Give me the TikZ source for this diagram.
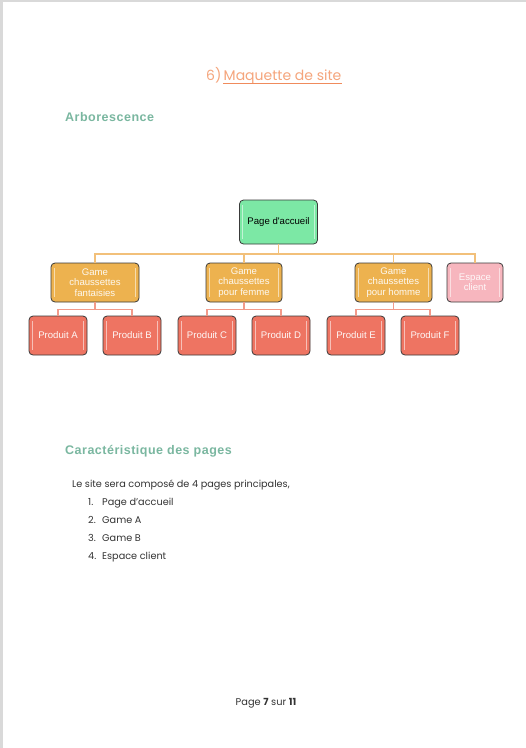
\documentclass[tikz,border=0pt]{standalone}
\usepackage{fontspec}
\setmainfont{Poppins}
\newfontfamily\arial{Liberation Sans}
\newfontfamily\arialsp[LetterSpace=4]{Liberation Sans}
\definecolor{pageedge}{HTML}{D9D9D9}
\definecolor{titleor}{HTML}{F5A57C}
\definecolor{titleul}{HTML}{F08B5C}
\definecolor{tealhd}{HTML}{7AB7A0}
\definecolor{rootgreen}{HTML}{7CE8A5}
\definecolor{gold}{HTML}{EDB24F}
\definecolor{salmon}{HTML}{EE7462}
\definecolor{pinkb}{HTML}{F7B6BE}
\definecolor{connA}{HTML}{F2C07A}
\definecolor{connB}{HTML}{F29A8A}
\definecolor{bodytxt}{HTML}{333333}
\definecolor{boxedge}{HTML}{3A3A3A}
\tikzset{
  gloss/.style={path picture={
    \draw[white,opacity=.55,line width=1.3pt]
      ([xshift=3.2pt,yshift=-5pt]path picture bounding box.north west) --
      ([xshift=3.2pt,yshift=5pt]path picture bounding box.south west);
    \draw[white,opacity=.55,line width=1.3pt]
      ([xshift=-3.2pt,yshift=-5pt]path picture bounding box.north east) --
      ([xshift=-3.2pt,yshift=5pt]path picture bounding box.south east);}},
  box/.style={draw=boxedge,line width=0.8pt,rounded corners=4pt,gloss,
    align=center,inner sep=1pt,font=\arial\fontsize{9.6}{10.2}\selectfont},
  rootbox/.style={box,fill=rootgreen,text=black,minimum width=78pt,minimum height=44pt},
  gamebox/.style={box,fill=gold,text=white!92!gold,minimum height=39pt},
  prodbox/.style={box,fill=salmon,text=white!95!salmon,minimum width=58pt,minimum height=39pt},
  clientbox/.style={box,fill=pinkb,text=white!90!pinkb,minimum width=56pt,minimum height=39pt},
  connone/.style={draw=connA,line width=1.6pt},
  conntwo/.style={draw=connB,line width=1.4pt},
  heading/.style={anchor=base west,text=tealhd,font=\arialsp\bfseries\fontsize{12.5}{14}\selectfont},
  bodyline/.style={anchor=base west,text=bodytxt,font=\fontsize{9.7}{11}\selectfont},
  titlefont/.style={anchor=base west,text=titleor,font=\fontsize{14}{16}\selectfont,inner sep=0pt},
}
\begin{document}
\begin{tikzpicture}[x=1pt,y=-1pt]
\useasboundingbox (0,0) rectangle (526,748);
\fill[white] (0,0) rectangle (526,748);
\fill[pageedge] (0,0) rectangle (526,2);
\fill[pageedge] (0,0) rectangle (3,748);

% title
\node[titlefont] (titlenum) at (206,80) {6)};
\node[titlefont] (titletxt) at (223.5,80) {Maquette de site};
\coordinate (ulA) at (223,83.5);
\draw[titleul,line width=1.2pt] (ulA) -- (titletxt.east |- ulA);
\node[heading,inner sep=0pt] (h1) at (65,121) {Arborescence};

% tree
\node[rootbox] (root) at (278.5,222) {Page d'accueil};
\node[gamebox,minimum width=88pt] (g1) at (95,282.5) {Game\\chaussettes\\fantaisies};
\node[gamebox,minimum width=76pt] (g2) at (244,282.5) {Game\\chaussettes\\pour femme};
\node[gamebox,minimum width=77pt] (g3) at (393.5,282.5) {Game\\chaussettes\\pour homme};
\node[clientbox] (g4) at (475,282.5) {Espace\\client};
\node[prodbox] (pA) at (58,335.5) {Produit A};
\node[prodbox] (pB) at (132,335.5) {Produit B};
\node[prodbox] (pC) at (207,335.5) {Produit C};
\node[prodbox] (pD) at (281,335.5) {Produit D};
\node[prodbox] (pE) at (356,335.5) {Produit E};
\node[prodbox] (pF) at (430,335.5) {Produit F};

\coordinate (hA) at (0,254);
\coordinate (hB) at (0,309.5);
\draw[connone] (root.south) -- (root.south |- hA);
\draw[connone] (g1.north) -- (g1.north |- hA) -- (g4.north |- hA) -- (g4.north);
\draw[connone] (g2.north) -- (g2.north |- hA);
\draw[connone] (g3.north) -- (g3.north |- hA);
\draw[conntwo] (g1.south) -- (g1.south |- hB);
\draw[conntwo] (pA.north) -- (pA.north |- hB) -- (pB.north |- hB) -- (pB.north);
\draw[conntwo] (g2.south) -- (g2.south |- hB);
\draw[conntwo] (pC.north) -- (pC.north |- hB) -- (pD.north |- hB) -- (pD.north);
\draw[conntwo] (g3.south) -- (g3.south |- hB);
\draw[conntwo] (pE.north) -- (pE.north |- hB) -- (pF.north |- hB) -- (pF.north);

% second section
\node[heading,inner sep=0pt] (h2) at (65,454) {Caractéristique des pages};
\node[bodyline,inner sep=0pt] (intro) at (72,487) {Le site sera composé de 4 pages principales,};
\node[bodyline,inner sep=0pt] (n1) at (88,505) {1.};
\node[bodyline,inner sep=0pt] (t1) at (102,505) {Page d'accueil};
\node[bodyline,inner sep=0pt] (n2) at (88,523) {2.};
\node[bodyline,inner sep=0pt] (t2) at (102,523) {Game A};
\node[bodyline,inner sep=0pt] (n3) at (88,541) {3.};
\node[bodyline,inner sep=0pt] (t3) at (102,541) {Game B};
\node[bodyline,inner sep=0pt] (n4) at (88,559) {4.};
\node[bodyline,inner sep=0pt] (t4) at (102,559) {Espace client};

% footer
\node[anchor=base,text=bodytxt,font=\fontsize{9.8}{11}\selectfont,inner sep=0pt] (foot) at (266,705)
  {Page \textbf{7} sur \textbf{11}};
\end{tikzpicture}
\end{document}
